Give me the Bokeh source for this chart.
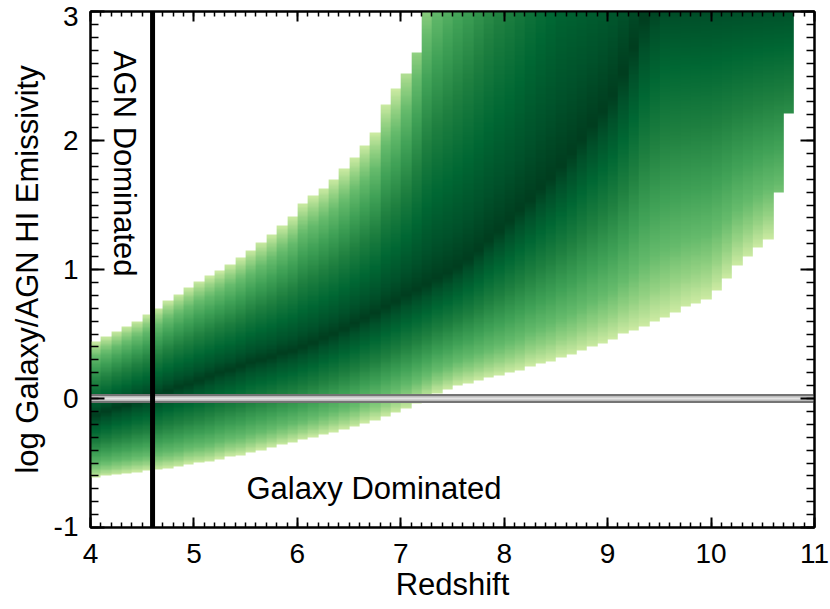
import numpy as np
from bokeh.plotting import figure
from bokeh.models import (LinearColorMapper, Span, Label, LinearAxis,
                          SingleIntervalTicker, Range1d)
from bokeh.embed import file_html
from bokeh.resources import INLINE

# ---------------- data ----------------
z_start = 4.0          # left edge of first redshift column
z_step = 0.1           # width of each redshift column

# lower cut of the distribution (log ratio) per column
lower = [-0.61, -0.60, -0.59, -0.58, -0.57, -0.56, -0.55, -0.54, -0.53, -0.51,
         -0.50, -0.49, -0.47, -0.45, -0.44, -0.42, -0.40, -0.38, -0.36, -0.34,
         -0.32, -0.30, -0.28, -0.26, -0.24, -0.22, -0.19, -0.17, -0.14, -0.11,
         -0.08, -0.04, 0.00, 0.04, 0.07, 0.10, 0.12, 0.14, 0.16, 0.18,
         0.20, 0.22, 0.25, 0.27, 0.29, 0.32, 0.34, 0.37, 0.40, 0.43,
         0.46, 0.50, 0.53, 0.56, 0.60, 0.63, 0.67, 0.71, 0.74, 0.77,
         0.84, 0.93, 1.03, 1.10, 1.17, 1.23, 1.60, 2.21]

# level below the ridge where the density fades out per column
fade_bottom = [-0.61, -0.60, -0.59, -0.58, -0.57, -0.56, -0.55, -0.54, -0.53, -0.51,
               -0.50, -0.49, -0.47, -0.45, -0.44, -0.42, -0.40, -0.38, -0.36, -0.34,
               -0.32, -0.30, -0.28, -0.26, -0.24, -0.22, -0.19, -0.17, -0.14, -0.11,
               -0.08, -0.04, 0.00, 0.04, 0.07, 0.10, 0.12, 0.14, 0.16, 0.18,
               0.20, 0.22, 0.25, 0.27, 0.29, 0.32, 0.34, 0.37, 0.40, 0.43,
               0.46, 0.50, 0.53, 0.56, 0.60, 0.63, 0.67, 0.71, 0.74, 0.77,
               0.84, 0.93, 1.03, 1.10, 1.17, 1.23, 1.28, 1.33]

# upper cut of the distribution per column
upper = [0.44, 0.48, 0.52, 0.56, 0.60, 0.65, 0.70, 0.76, 0.81, 0.86,
         0.91, 0.95, 0.99, 1.04, 1.09, 1.15, 1.21, 1.27, 1.34, 1.41,
         1.51, 1.57, 1.63, 1.70, 1.78, 1.87, 1.96, 2.06, 2.28, 2.40,
         2.52, 2.68, 3.0, 3.0, 3.0, 3.0, 3.0, 3.0, 3.0, 3.0,
         3.0, 3.0, 3.0, 3.0, 3.0, 3.0, 3.0, 3.0, 3.0, 3.0,
         3.0, 3.0, 3.0, 3.0, 3.0, 3.0, 3.0, 3.0, 3.0, 3.0,
         3.0, 3.0, 3.0, 3.0, 3.0, 3.0, 3.0, 3.0]

# peak (darkest ridge) of the distribution per column
ridge = [-0.13, -0.10, -0.07, -0.05, -0.02, 0.00, 0.03, 0.06, 0.09, 0.11,
         0.14, 0.17, 0.20, 0.22, 0.25, 0.28, 0.30, 0.32, 0.35, 0.37,
         0.40, 0.43, 0.47, 0.50, 0.54, 0.58, 0.62, 0.66, 0.71, 0.75,
         0.80, 0.84, 0.88, 0.93, 0.97, 1.02, 1.08, 1.15, 1.23, 1.30,
         1.38, 1.46, 1.54, 1.63, 1.71, 1.80, 1.90, 2.01, 2.12, 2.23,
         2.35, 2.52, 2.72, 2.95, 3.10, 3.20, 3.20, 3.20, 3.20, 3.20,
         3.20, 3.20, 3.20, 3.20, 3.20, 3.20, 3.20, 3.20]

# level above the ridge where the density fades out per column
fade_top = [0.44, 0.48, 0.52, 0.56, 0.60, 0.65, 0.70, 0.76, 0.81, 0.86,
            0.91, 0.95, 0.99, 1.04, 1.09, 1.15, 1.21, 1.27, 1.34, 1.41,
            1.51, 1.57, 1.63, 1.70, 1.78, 1.87, 1.96, 2.06, 2.28, 2.40,
            2.60, 2.90, 3.30, 3.55, 3.75, 3.95, 4.15, 4.40, 4.65, 4.90,
            5.10, 5.40, 5.80, 6.20, 6.60, 7.00, 7.00, 7.00, 7.00, 7.00,
            7.00, 7.00, 7.00, 7.00, 7.00, 7.00, 7.00, 7.00, 7.00, 7.00,
            7.00, 7.00, 7.00, 7.00, 7.00, 7.00, 7.00, 7.00]

x_range_lim = [4, 11]
y_range_lim = [-1, 3]
agn_line_z = 4.6
equal_line = 0.0

# ---------------- density image ----------------
lower_a = np.array(lower)
upper_a = np.array(upper)
ridge_a = np.array(ridge)
ftop_a = np.array(fade_top)
fbot_a = np.array(fade_bottom)
ncol = len(lower_a)
ny = 400
dy = (y_range_lim[1] - y_range_lim[0]) / ny
ys = y_range_lim[0] + dy * (np.arange(ny) + 0.5)
Y = ys[:, None]
below = (ridge_a[None, :] - Y) / np.maximum(ridge_a[None, :] - fbot_a[None, :], 1e-6)
above = (Y - ridge_a[None, :]) / np.maximum(ftop_a[None, :] - ridge_a[None, :], 1e-6)
t = np.where(Y < ridge_a[None, :], below, above)
v = 1.0 - np.clip(t, 0, 1)
inside = (Y >= lower_a[None, :]) & (Y <= upper_a[None, :])
img = np.where(inside, v, np.nan)

# palette (light -> dark green)
stops = [(0.0, "#cbeaa2"), (0.1, "#93d182"), (0.2, "#66bb6c"), (0.35, "#41a257"),
         (0.55, "#1f8040"), (0.75, "#006733"), (0.9, "#00512a"), (1.0, "#003e1f")]
def hex2rgb(h):
    return np.array([int(h[i:i + 2], 16) for i in (1, 3, 5)], float)
palette = []
for k in range(256):
    f = k / 255
    for (a, ca), (b, cb) in zip(stops[:-1], stops[1:]):
        if a <= f <= b:
            w = (f - a) / (b - a)
            c = hex2rgb(ca) * (1 - w) + hex2rgb(cb) * w
            palette.append("#%02x%02x%02x" % tuple(int(round(x)) for x in c))
            break
mapper = LinearColorMapper(palette=palette, low=0, high=1, nan_color=(0, 0, 0, 0))

FONT = "Liberation Sans"

p = figure(width=830, height=609, output_backend="svg", toolbar_location=None,
           x_range=Range1d(*x_range_lim), y_range=Range1d(*y_range_lim),
           min_border_left=90, min_border_right=16, min_border_top=11, min_border_bottom=82,
           x_axis_label="Redshift", y_axis_label="log Galaxy/AGN HI Emissivity")
p.background_fill_color = "white"
p.border_fill_color = "white"
p.xgrid.visible = False
p.ygrid.visible = False
p.outline_line_color = "black"
p.outline_line_width = 2

r = p.image(image=[img], x=z_start, y=y_range_lim[0], dw=z_step * ncol,
            dh=y_range_lim[1] - y_range_lim[0], color_mapper=mapper)
r.level = "image"

# y = 0 band
for col, lw in (("#747474", 9), ("#bcbcbc", 5), ("#e4e4e4", 2)):
    p.add_layout(Span(location=equal_line, dimension="width", line_color=col,
                      line_width=lw, level="underlay"))
p.add_layout(Span(location=agn_line_z, dimension="height", line_color="black",
                  line_width=5, level="underlay"))

def style(ax, tick_in, minor_in, labels=True):
    ax.axis_line_width = 2
    ax.axis_line_color = "black"
    ax.major_tick_in = tick_in
    ax.major_tick_out = 0
    ax.minor_tick_in = minor_in
    ax.minor_tick_out = 0
    ax.major_tick_line_width = 2
    ax.minor_tick_line_width = 1.5
    ax.major_tick_line_color = "black"
    ax.minor_tick_line_color = "black"
    if labels:
        ax.major_label_text_font = FONT
        ax.major_label_text_font_size = "28px"
        ax.major_label_text_color = "black"
        ax.axis_label_text_font = FONT
        ax.axis_label_text_font_size = "31px"
        ax.axis_label_text_font_style = "normal"
        ax.axis_label_text_color = "black"
    else:
        ax.major_label_text_font_size = "1px"
        ax.major_label_text_color = None
        ax.major_label_standoff = 0

xa = p.xaxis[0]
xa.ticker = SingleIntervalTicker(interval=1, num_minor_ticks=10)
style(xa, 10, 5)
xa.major_label_standoff = 16
xa.axis_label_standoff = 1

ya = p.yaxis[0]
ya.ticker = SingleIntervalTicker(interval=1, num_minor_ticks=10)
style(ya, 14, 8)
ya.major_label_standoff = 12
ya.axis_label_standoff = 6
# end labels sit inside the axis span, as in the original
ya.major_label_overrides = {3: "\n3", -1: "-1\n \n "}
ya.major_label_text_line_height = 0.02

top = LinearAxis(ticker=SingleIntervalTicker(interval=1, num_minor_ticks=10))
style(top, 10, 5, labels=False)
p.add_layout(top, "above")
right = LinearAxis(ticker=SingleIntervalTicker(interval=1, num_minor_ticks=10))
style(right, 14, 8, labels=False)
p.add_layout(right, "right")

p.add_layout(Label(x=4.33, y=1.82, text="AGN Dominated", angle=-np.pi / 2,
                   text_align="center", text_baseline="middle", text_font=FONT,
                   text_font_size="31px", text_color="black"))
p.add_layout(Label(x=6.74, y=-0.70, text="Galaxy Dominated",
                   text_align="center", text_baseline="middle", text_font=FONT,
                   text_font_size="31px", text_color="black"))

open("out.html", "w").write(file_html(p, INLINE))
